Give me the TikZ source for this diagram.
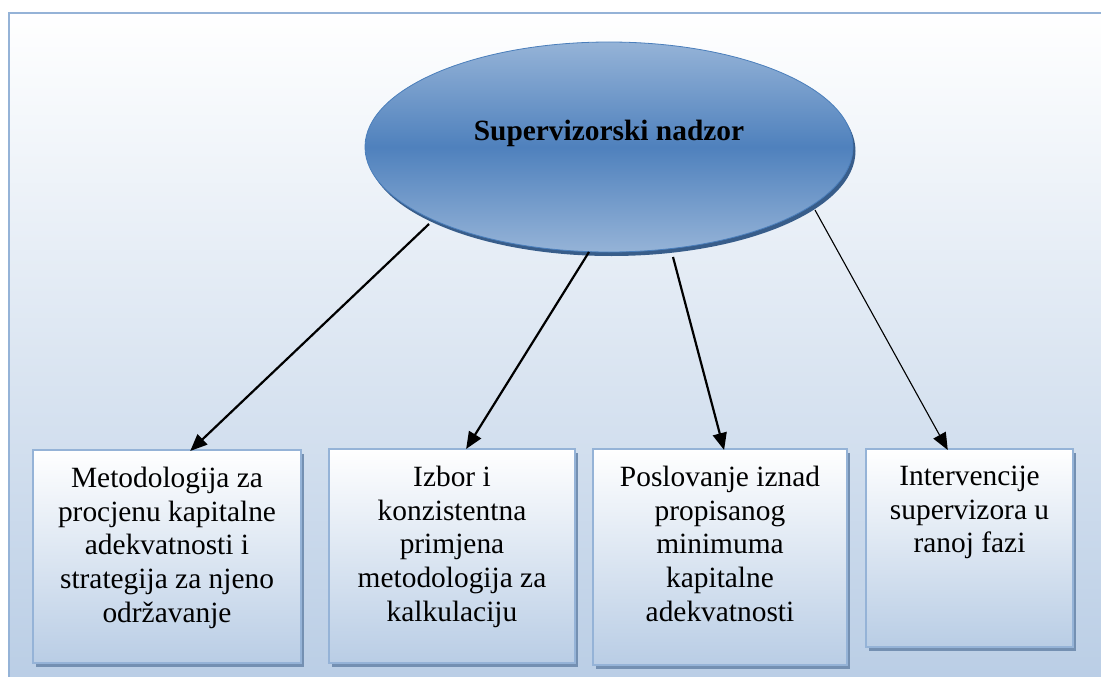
\documentclass[tikz,border=0pt]{standalone}
\usepackage{fontspec}
\setmainfont{Liberation Serif}
\usetikzlibrary{shapes.geometric,shadows,arrows.meta,calc}

\definecolor{frameblue}{HTML}{95B3D7}
\definecolor{paleblue}{HTML}{B9CDE5}
\definecolor{midblue}{HTML}{4F81BD}
\definecolor{rimblue}{HTML}{4A7EBB}
\definecolor{darkrim}{HTML}{385D8A}
\definecolor{boxshadow}{HTML}{7490B2}

\tikzset{
  hub/.style={ellipse, minimum width=488pt, minimum height=210pt, inner sep=0pt,
    draw=rimblue, line width=0.8pt,
    top color=frameblue, bottom color=frameblue, middle color=midblue,
    drop shadow={shadow xshift=2.5pt, shadow yshift=-4pt, fill=darkrim, opacity=1}},
  card/.style={rectangle, inner sep=0pt, draw=frameblue, line width=2pt,
    top color=white, bottom color=paleblue,
    drop shadow={shadow xshift=3pt, shadow yshift=-4pt, fill=boxshadow, opacity=1}},
  cardtext/.style={anchor=north, inner sep=0pt, align=center,
    font=\fontsize{29.4}{33.6}\selectfont},
  link/.style={draw=black, line width=2.2pt, -{Triangle[length=17pt,width=14pt]}},
  thinlink/.style={draw=black, line width=1.1pt, -{Triangle[length=17pt,width=14pt]}}
}

\begin{document}
\begin{tikzpicture}[x=1pt,y=-1pt]
  \useasboundingbox (0,0) rectangle (1101,677);
  \fill[white] (0,0) rectangle (1101,677);

  % outer frame with vertical gradient (runs past the right and bottom edges)
  \begin{scope}
    \clip (0,0) rectangle (1101,677);
    \path[draw=frameblue, line width=2pt, top color=white, bottom color=paleblue]
      (9,13) rectangle (1115,690);
  \end{scope}

  % central ellipse
  \node[hub] (sup) at (609,147) {};
  \node[anchor=base, inner sep=0pt, font=\fontsize{29.4}{33.6}\selectfont\bfseries]
    (suptext) at (609,140) {Supervizorski nadzor};

  % four boxes
  \node[card, minimum width=268pt, minimum height=213pt] (b1) at (167,556.5) {};
  \node[card, minimum width=246pt, minimum height=214pt] (b2) at (452,556) {};
  \node[card, minimum width=254pt, minimum height=216pt] (b3) at (720,557) {};
  \node[card, minimum width=207pt, minimum height=198pt] (b4) at (969.5,548) {};

  \node[cardtext] (t1) at ($(b1.north)+(0,18)$)
    {Metodologija za\\procjenu kapitalne\\adekvatnosti i\\strategija za njeno\\održavanje};
  \node[cardtext] (t2) at ($(b2.north)+(0,18)$)
    {Izbor i\\konzistentna\\primjena\\metodologija za\\kalkulaciju};
  \node[cardtext] (t3) at ($(b3.north)+(0,18)$)
    {Poslovanje iznad\\propisanog\\minimuma\\kapitalne\\adekvatnosti};
  \node[cardtext] (t4) at ($(b4.north)+(0,18)$)
    {Intervencije\\supervizora u\\ranoj fazi};

  % arrow start points just below the ellipse
  \coordinate (s1) at (429,224);
  \coordinate (s2) at (589,252);
  \coordinate (s3) at (673,257);
  \coordinate (s4) at (815,210);

  % arrows
  \draw[link] (s1) -- ($(b1.north west)!0.586!(b1.north east)+(0,2)$);
  \draw[link] (s2) -- ($(b2.north west)!0.557!(b2.north east)+(0,1)$);
  \draw[link] (s3) -- ($(b3.north west)!0.516!(b3.north east)+(0,2)$);
  \draw[thinlink] (s4) -- ($(b4.north west)!0.396!(b4.north east)+(0,2)$);
\end{tikzpicture}
\end{document}
